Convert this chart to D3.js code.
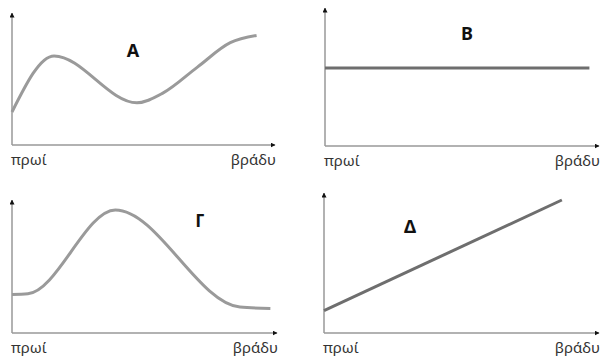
<html>
  <head>
    <script src="https://d3js.org/d3.v7.min.js"></script>
    <style>
      body { margin: 0; background: #fff; }
      .axislabel { font-family: "Noto Sans", sans-serif; font-size: 15px; fill: #333; }
      .panellabel { font-family: "Noto Sans", sans-serif; font-size: 18px; font-weight: bold; fill: #111; }
    </style>
  </head>
  <body>
    <svg id="chart" width="604" height="356"></svg>
    <script>

    // data: time of day (0 = morning, 10 = evening) vs level (0..10)
    const panelNames = ["Α", "Β", "Γ", "Δ"];
    const startLabel = "πρωί";
    const endLabel = "βράδυ";

    const seriesA = [[0, 2.5], [1.6, 6.75], [4.75, 3.2], [5.75, 3.95], [7.05, 5.9], [8.3, 7.75], [9.3, 8.3]];
    const seriesB = [[0, 5.65], [9.65, 5.65]];
    const seriesC = [[0, 2.9], [0.6, 2.95], [3.9, 9.25], [8.6, 1.95], [9.75, 1.85]];
    const seriesD = [[0, 1.6], [8.65, 9.5]];

    const allSeries = [seriesA, seriesB, seriesC, seriesD];

    // layout of the four small plots
    const panels = [
      {x0: 12, x1: 275, y0: 145, y1: 13, lx: 133, ly: 57, color: "#9a9a9a", curve: d3.curveMonotoneX},
      {x0: 325, x1: 599, y0: 146, y1: 8, lx: 467, ly: 40, color: "#6e6e6e", curve: d3.curveLinear},
      {x0: 12, x1: 277, y0: 333, y1: 200, lx: 200, ly: 227, color: "#9a9a9a", curve: d3.curveMonotoneX},
      {x0: 324, x1: 599, y0: 333, y1: 193, lx: 410, ly: 233, color: "#6e6e6e", curve: d3.curveLinear}
    ];

    const svg = d3.select("svg#chart");

    svg.append("defs").append("marker")
      .attr("id", "arrow")
      .attr("viewBox", "0 0 10 10")
      .attr("refX", 9).attr("refY", 5)
      .attr("markerWidth", 5).attr("markerHeight", 5)
      .attr("markerUnits", "userSpaceOnUse")
      .attr("orient", "auto")
      .append("path")
      .attr("d", "M0,0 L10,5 L0,10 z")
      .attr("fill", "#111");

    panels.forEach((p, i) => {
      const xScale = d3.scaleLinear().domain([0, 10]).range([p.x0, p.x1]);
      const yScale = d3.scaleLinear().domain([0, 10]).range([p.y0, p.y1]);
      const g = svg.append("g").attr("class", "panel");

      // axes with arrow heads
      g.append("line")
        .attr("x1", xScale(0)).attr("y1", yScale(0))
        .attr("x2", xScale(10)).attr("y2", yScale(0))
        .attr("stroke", "#999").attr("stroke-width", 1.5)
        .attr("marker-end", "url(#arrow)");
      g.append("line")
        .attr("x1", xScale(0)).attr("y1", yScale(0))
        .attr("x2", xScale(0)).attr("y2", yScale(10))
        .attr("stroke", "#999").attr("stroke-width", 1.5)
        .attr("marker-end", "url(#arrow)");

      const lineGen = d3.line()
        .x(d => xScale(d[0]))
        .y(d => yScale(d[1]))
        .curve(p.curve);

      g.append("path")
        .datum(allSeries[i])
        .attr("fill", "none")
        .attr("stroke", p.color)
        .attr("stroke-width", 3)
        .attr("d", lineGen);

      g.append("text").attr("class", "axislabel")
        .attr("x", xScale(0) - 1).attr("y", yScale(0) + 20)
        .text(startLabel);
      g.append("text").attr("class", "axislabel")
        .attr("x", xScale(10) + 1).attr("y", yScale(0) + 20)
        .attr("text-anchor", "end")
        .text(endLabel);

      g.append("text").attr("class", "panellabel")
        .attr("x", p.lx).attr("y", p.ly)
        .attr("text-anchor", "middle")
        .text(panelNames[i]);
    });

    </script>
  </body>
</html>
